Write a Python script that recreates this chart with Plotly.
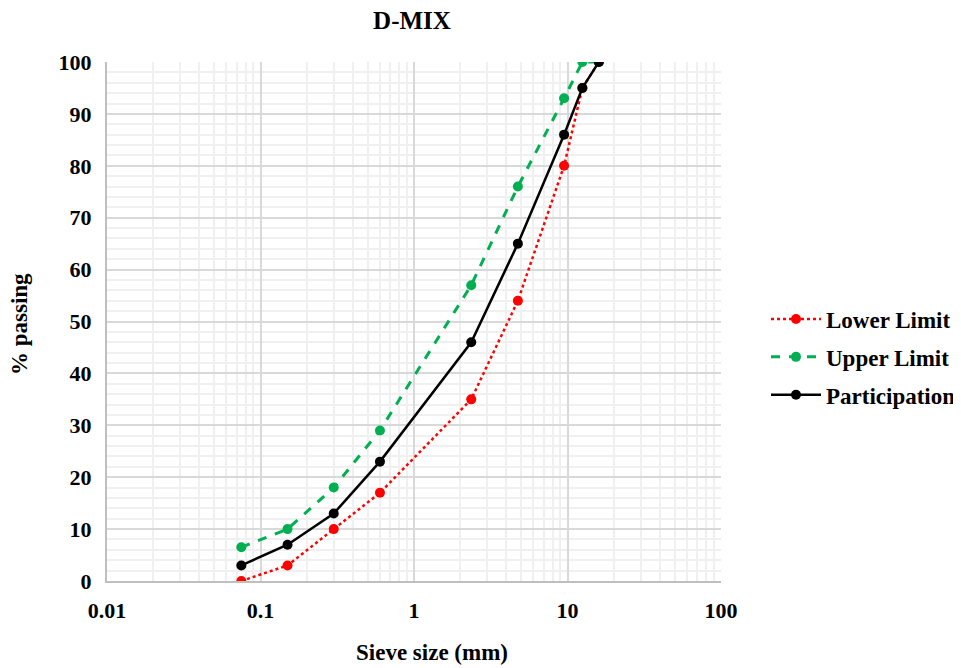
import plotly.graph_objects as go

sieve = [0.075, 0.15, 0.3, 0.6, 2.36, 4.75, 9.5, 12.5, 16]
lower = [0, 3, 10, 17, 35, 54, 80, 95, 100]
upper = [6.5, 10, 18, 29, 57, 76, 93, 100, 100]
particip = [3, 7, 13, 23, 46, 65, 86, 95, 100]
x_ticks = [0.01, 0.1, 1, 10, 100]
x_tick_text = ["0.01", "0.1", "1", "10", "100"]

FONT = "Liberation Serif, Times New Roman, serif"
W, H = 953, 660
L, T, R, B = 99, 54, 240, 87
PW, PH = W - L - R, H - T - B

fig = go.Figure()
fig.add_trace(go.Scatter(x=sieve, y=lower, name="Lower Limit", mode="lines+markers",
                         legendgroup="a",
                         line=dict(color="#FF0000", width=2.5, dash="dot"),
                         marker=dict(color="#FF0000", size=10)))
fig.add_trace(go.Scatter(x=sieve, y=upper, name="Upper Limit", mode="lines+markers",
                         legendgroup="b",
                         line=dict(color="#00B050", width=3, dash="dash"),
                         marker=dict(color="#00B050", size=10)))
fig.add_trace(go.Scatter(x=sieve, y=particip, name="Participation", mode="lines+markers",
                         legendgroup="c",
                         line=dict(color="#000000", width=2.5),
                         marker=dict(color="#000000", size=10)))

fig.update_layout(
    width=W, height=H,
    margin=dict(l=L, r=R, t=T, b=B),
    paper_bgcolor="white", plot_bgcolor="white",
    font=dict(family=FONT, size=22, color="black", weight="bold"),
    title=dict(text="D-MIX", xref="container", x=404/W, xanchor="center",
               yref="container", y=1-3/H, yanchor="top",
               font=dict(family=FONT, size=25, weight="bold", color="black")),
    showlegend=True,
    legend=dict(xref="container", x=758/W, xanchor="left",
                yref="container", y=1-349/H, yanchor="middle",
                font=dict(family=FONT, size=23, weight="bold"),
                itemwidth=50, tracegroupgap=5, bgcolor="rgba(0,0,0,0)"),
    xaxis=dict(type="log", range=[-2, 2], tickvals=x_ticks, ticktext=x_tick_text,
               showgrid=True, gridcolor="#D9D9D9", gridwidth=2,
               minor=dict(dtick="D1", showgrid=True, gridcolor="#F0F0F0", gridwidth=2),
               showline=True, linecolor="#BFBFBF", linewidth=2,
               zeroline=False, ticks="", ticklabelstandoff=9),
    yaxis=dict(range=[0, 100], dtick=10,
               showgrid=True, gridcolor="#D9D9D9", gridwidth=2,
               minor=dict(dtick=2, showgrid=True, gridcolor="#F0F0F0", gridwidth=2),
               showline=True, linecolor="#BFBFBF", linewidth=2,
               zeroline=False, ticks="", ticklabelstandoff=9),
    annotations=[
        dict(text="Sieve size (mm)", xref="paper", yref="paper",
             x=(424 - L) / PW, y=(H - B - 644) / PH, xanchor="center", yanchor="middle",
             showarrow=False, font=dict(family=FONT, size=23, weight="bold")),
        dict(text="% passing", xref="paper", yref="paper", textangle=-90,
             x=(12 - L) / PW, y=(H - B - 316) / PH, xanchor="center", yanchor="middle",
             showarrow=False, font=dict(family=FONT, size=23, weight="bold")),
    ],
)

fig.write_html("out.html")
